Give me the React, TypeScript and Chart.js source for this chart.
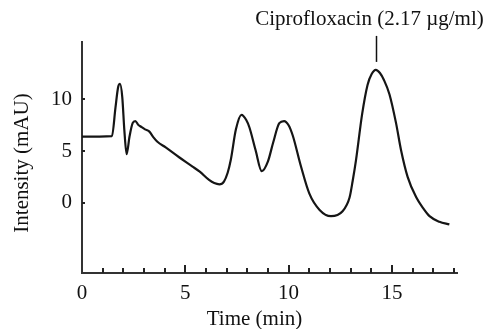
import React, { useEffect, useRef } from "react";
import { Chart, registerables } from "chart.js";

Chart.register(...registerables);

// Chromatogram trace (time in min, intensity in mAU)
const times = [0, 1.45, 1.62, 1.75, 1.84, 1.95, 2.05, 2.16, 2.3, 2.45, 2.58, 2.72, 2.86, 3.05, 3.25, 3.45, 3.65, 4.05, 4.7, 5.35, 5.7, 6.15, 6.4, 6.65, 6.87, 7.05, 7.2, 7.45, 7.72, 7.95, 8.1, 8.4, 8.7, 9.0, 9.25, 9.55, 9.78, 10.0, 10.2, 10.6, 11.0, 11.5, 12.05, 12.6, 12.95, 13.1, 13.26, 13.56, 13.82, 14.02, 14.22, 14.42, 14.62, 14.88, 15.2, 15.44, 15.76, 16.17, 16.5, 16.82, 17.3, 17.78];
const intensity = [6.4, 6.45, 9.2, 11.2, 11.5, 10.2, 7.0, 4.7, 6.4, 7.7, 7.9, 7.55, 7.35, 7.1, 6.9, 6.35, 5.9, 5.35, 4.4, 3.5, 3.0, 2.2, 1.9, 1.78, 2.05, 2.9, 4.13, 7.1, 8.5, 8.0, 7.3, 5.1, 3.05, 4.0, 5.8, 7.7, 7.9, 7.5, 6.5, 3.5, 0.9, -0.7, -1.3, -0.85, 0.5, 2.1, 4.1, 8.6, 11.4, 12.45, 12.85, 12.55, 11.85, 10.5, 7.7, 5.1, 2.5, 0.55, -0.5, -1.3, -1.85, -2.1];

const xTickLabels = [0, 5, 10, 15];
const yTickLabels = [0, 5, 10];
const xMinorStep = 1;
const xRange = [0, 18.15];
const yRange = [-6.8, 15.55];

const xTitle = "Time (min)";
const yTitle = "Intensity (mAU)";
const annotationLabel = "Ciprofloxacin (2.17 µg/ml)";
const annotationTime = 14.22;

const FONT = '"Liberation Serif", "Times New Roman", serif';

const decorPlugin = {
  id: "decor",
  afterDraw(chart: any) {
    const { ctx, chartArea } = chart;
    const x = chart.scales.x;
    const y = chart.scales.y;
    ctx.save();
    ctx.strokeStyle = "#222";
    ctx.lineWidth = 2;
    ctx.lineCap = "butt";
    // inward x ticks
    for (let t = xMinorStep; t <= x.max; t += xMinorStep) {
      const px = Math.round(x.getPixelForValue(t));
      const len = t % 5 === 0 ? 8 : 5;
      ctx.beginPath();
      ctx.moveTo(px, chartArea.bottom);
      ctx.lineTo(px, chartArea.bottom - len);
      ctx.stroke();
    }
    // inward y ticks
    for (const v of yTickLabels) {
      const py = Math.round(y.getPixelForValue(v));
      ctx.beginPath();
      ctx.moveTo(chartArea.left, py);
      ctx.lineTo(chartArea.left + 3, py);
      ctx.stroke();
    }
    // axis titles
    ctx.fillStyle = "#111";
    ctx.font = `21px ${FONT}`;
    ctx.textAlign = "center";
    ctx.textBaseline = "alphabetic";
    ctx.fillText(xTitle, (chartArea.left + chartArea.right) / 2 - 15, chart.height - 4);
    ctx.save();
    ctx.translate(27.5, (chartArea.top + chartArea.bottom) / 2 + 5.5);
    ctx.rotate(-Math.PI / 2);
    ctx.fillText(yTitle, 0, 0);
    ctx.restore();
    // annotation
    const peakVal = Math.max(...intensity);
    const ax = Math.round(x.getPixelForValue(annotationTime)) + 0.5;
    const ay = y.getPixelForValue(peakVal);
    ctx.lineWidth = 1.5;
    ctx.strokeStyle = "#111";
    ctx.beginPath();
    ctx.moveTo(ax, ay - 8);
    ctx.lineTo(ax, ay - 34);
    ctx.stroke();
    ctx.fillText(annotationLabel, ax - 7, ay - 45);
    ctx.restore();
  },
};

export default function App() {
  const ref = useRef<HTMLCanvasElement | null>(null);
  useEffect(() => {
    if (!ref.current) return;
    const data = times.map((t, i) => ({ x: t, y: intensity[i] }));
    const chart = new Chart(ref.current, {
      type: "line",
      data: {
        datasets: [
          {
            data,
            borderColor: "#151515",
            borderWidth: 2.2,
            pointRadius: 0,
            fill: false,
            cubicInterpolationMode: "monotone",
          },
        ],
      },
      options: {
        responsive: false,
        animation: false,
        devicePixelRatio: 1,
        layout: { padding: { left: 0, top: 42, right: 30, bottom: 0 } },
        plugins: { legend: { display: false }, tooltip: { enabled: false } },
        scales: {
          x: {
            type: "linear",
            min: xRange[0],
            max: xRange[1],
            grid: { display: false, drawTicks: false },
            border: { display: true, color: "#333", width: 2 },
            afterBuildTicks: (s: any) => {
              s.ticks = xTickLabels.map((v) => ({ value: v }));
            },
            afterFit: (s: any) => {
              s.height = 56;
            },
            ticks: {
              autoSkip: false,
              maxRotation: 0,
              padding: 8,
              color: "#111",
              font: { family: FONT, size: 21 },
            },
          },
          y: {
            type: "linear",
            min: yRange[0],
            max: yRange[1],
            grid: { display: false, drawTicks: false },
            border: { display: true, color: "#333", width: 2 },
            afterBuildTicks: (s: any) => {
              s.ticks = yTickLabels.map((v) => ({ value: v }));
            },
            afterFit: (s: any) => {
              s.width = 82;
            },
            ticks: {
              padding: 10,
              color: "#111",
              font: { family: FONT, size: 21 },
            },
          },
        },
      },
      plugins: [decorPlugin],
    });
    return () => chart.destroy();
  }, []);
  return (
    <div style={{ position: "absolute", left: 0, top: 0, width: 487, height: 329, background: "#fff" }}>
      <canvas ref={ref} width={487} height={329} />
    </div>
  );
}
